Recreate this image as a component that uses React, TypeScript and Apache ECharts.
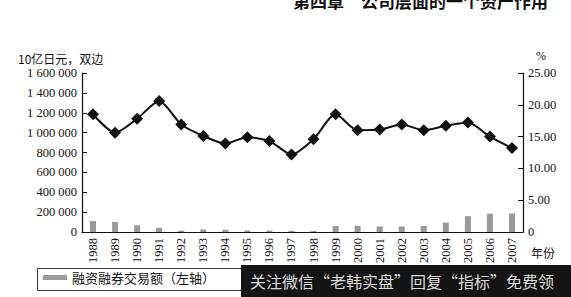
import React, { useEffect, useRef } from "react";
import * as echarts from "echarts";

const years = ["1988","1989","1990","1991","1992","1993","1994","1995","1996","1997","1998","1999","2000","2001","2002","2003","2004","2005","2006","2007"];
const tradingVolume = [110000,100000,68000,42000,15000,25000,22000,15000,15000,12000,10000,60000,62000,55000,55000,60000,95000,160000,185000,185000];
const ratioPct = [18.5,15.6,17.8,20.6,16.9,15.1,13.9,14.9,14.3,12.2,14.6,18.5,16.0,16.1,16.9,16.0,16.7,17.2,15.0,13.2];
const leftTicks = { min: 0, max: 1600000, interval: 200000 };
const rightTicks = { min: 0, max: 25, interval: 5 };

const serif = "Times New Roman, Liberation Serif, serif";
const cjk = "Noto Sans CJK SC";

function fmtLeft(v: number) {
  return String(v).replace(/\B(?=(\d{3})+(?!\d))/g, " ");
}

export default function App() {
  const ref = useRef<HTMLDivElement>(null);
  useEffect(() => {
    if (!ref.current) return;
    const chart = echarts.init(ref.current, null, { renderer: "svg" });
    chart.setOption({
      animation: false,
      backgroundColor: "#fff",
      grid: { left: 82, right: 48, top: 73, bottom: 65, containLabel: false },
      legend: {
        data: [{ name: "融资融券交易额（左轴）", icon: "rect" }],
        left: 43,
        top: 271,
        itemWidth: 24,
        itemHeight: 5,
        itemGap: 6,
        padding: 0,
        textStyle: { fontFamily: cjk, fontSize: 13, color: "#111" },
      },
      xAxis: {
        type: "category",
        data: years,
        boundaryGap: true,
        axisLine: { lineStyle: { color: "#111", width: 1.2 } },
        axisTick: { inside: true, length: 5, alignWithLabel: false, lineStyle: { color: "#111" } },
        axisLabel: { rotate: 90, fontFamily: serif, fontSize: 12.5, color: "#111", margin: 6 },
      },
      yAxis: [
        {
          type: "value",
          min: leftTicks.min,
          max: leftTicks.max,
          interval: leftTicks.interval,
          splitLine: { show: false },
          axisLine: { show: true, lineStyle: { color: "#111", width: 1.2 } },
          axisTick: { show: true, inside: true, length: 5, lineStyle: { color: "#111" } },
          axisLabel: { fontFamily: serif, fontSize: 12.5, color: "#111", margin: 5, formatter: (v: number) => fmtLeft(v) },
        },
        {
          type: "value",
          position: "right",
          min: rightTicks.min,
          max: rightTicks.max,
          interval: rightTicks.interval,
          splitLine: { show: false },
          axisLine: { show: true, lineStyle: { color: "#111", width: 1.2 } },
          axisTick: { show: true, inside: true, length: 5, lineStyle: { color: "#111" } },
          axisLabel: { fontFamily: serif, fontSize: 12.5, color: "#111", margin: 5, formatter: (v: number) => (v === 0 ? "0" : v.toFixed(2)) },
        },
      ],
      series: [
        {
          name: "融资融券交易额（左轴）",
          type: "bar",
          yAxisIndex: 0,
          data: tradingVolume,
          barWidth: 6,
          itemStyle: { color: "#999999" },
        },
        {
          name: "比率",
          type: "line",
          yAxisIndex: 1,
          data: ratioPct,
          smooth: 0.25,
          symbol: "diamond",
          symbolSize: 12,
          lineStyle: { color: "#111", width: 2 },
          itemStyle: { color: "#111" },
        },
      ],
      graphic: [
        {
          type: "text",
          left: 18,
          top: 52,
          style: { text: "10亿日元，双边", fontFamily: cjk, fontSize: 12, fill: "#111" },
        },
        {
          type: "text",
          left: 536,
          top: 50,
          style: { text: "%", fontFamily: serif, fontSize: 12, fill: "#111" },
        },
        {
          type: "text",
          left: 531,
          top: 246,
          style: { text: "年份", fontFamily: cjk, fontSize: 12, fill: "#111" },
        },
        {
          type: "text",
          x: 293,
          y: 9,
          style: { text: "第四章　公司层面的一个资产作用", fontFamily: cjk, fontWeight: "bold", fontSize: 17, fill: "#111", verticalAlign: "bottom" },
        },
        {
          type: "rect",
          shape: { x: 37.5, y: 268.5, width: 280, height: 22 },
          style: { fill: "none", stroke: "#333", lineWidth: 1 },
        },
        {
          type: "rect",
          z: 100,
          shape: { x: 241, y: 265, width: 330, height: 32 },
          style: { fill: "#141414" },
        },
        {
          type: "text",
          z: 101,
          x: 250,
          y: 281,
          style: { text: "关注微信“老韩实盘”回复“指标”免费领", fontFamily: cjk, fontSize: 16, fill: "#dcdcdc", verticalAlign: "middle" },
        },
      ],
    });
    return () => chart.dispose();
  }, []);
  return <div ref={ref} style={{ position: "fixed", left: 0, top: 0, width: 571, height: 297 }} />;
}
